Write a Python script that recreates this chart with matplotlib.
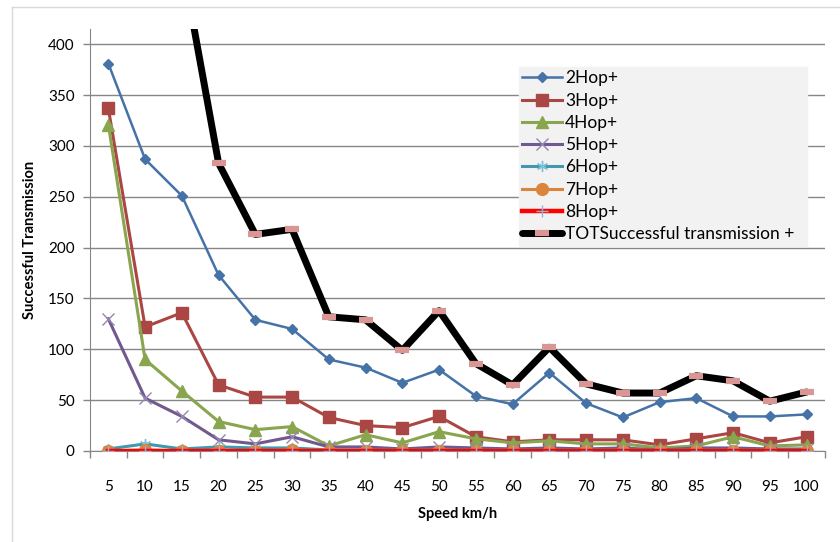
import matplotlib
matplotlib.use("Agg")

import matplotlib.pyplot as plt
from matplotlib.lines import Line2D

plt.rcParams["font.family"] = ["Lato", "DejaVu Sans"]

speeds = [5, 10, 15, 20, 25, 30, 35, 40, 45, 50, 55, 60, 65, 70, 75, 80, 85, 90, 95, 100]

hop2 = [381, 287, 251, 173, 129, 120, 90, 82, 67, 80, 54, 46, 77, 47, 33, 48, 52, 34, 34, 36]
hop3 = [337, 122, 136, 65, 53, 53, 33, 25, 23, 34, 14, 9, 11, 11, 11, 6, 12, 18, 8, 14]
hop4 = [321, 90, 59, 29, 21, 24, 5, 16, 8, 19, 12, 8, 10, 7, 7, 3, 5, 14, 5, 6]
hop5 = [130, 52, 34, 11, 7, 14, 4, 4, 2, 4, 3, 2, 3, 2, 3, 1, 3, 3, 2, 2]
hop6 = [2, 7, 2, 4, 3, 3, 1, 1, 1, 1, 1, 1, 1, 1, 1, 1, 1, 1, 1, 1]
hop7 = [0, 1, 0, 0, 0, 1, 0, 0, 0, 0, 0, 0, 0, 0, 0, 0, 0, 0, 0, 0]
hop8 = [0, 0, 0, 0, 0, 0, 0, 0, 0, 0, 0, 0, 0, 0, 0, 0, 0, 0, 0, 0]
tot = [1171, 559, 482, 283, 213, 218, 132, 129, 99, 138, 86, 65, 102, 66, 57, 57, 74, 69, 49, 58]

fig = plt.figure(figsize=(8.4, 5.42), dpi=100)
ax = fig.add_axes([0.1071, 0.1679, 0.875, 0.7786])

x = list(range(len(speeds)))

ax.plot(x, hop2, color="#4572a7", lw=1.8, marker="D", ms=5.5,
        label="2Hop+", zorder=3)
ax.plot(x, hop3, color="#aa4643", lw=2.2, marker="s", ms=8.5,
        label="3Hop+", zorder=3)
ax.plot(x, hop4, color="#89a54e", lw=2.2, marker="^", ms=8.5,
        label="4Hop+", zorder=3)
ax.plot(x, hop5, color="#71588f", lw=2.2, marker="x", ms=8, mew=1,
        mec="#9585b0", label="5Hop+", zorder=3)
ax.plot(x, hop6, color="#4198af", lw=2.2, marker=(6, 2, 0), ms=8, mew=1,
        mec="#7fc1d6", label="6Hop+", zorder=3)
ax.plot(x, hop7, color="#db843d", lw=2.2, marker="o", ms=8.5,
        label="7Hop+", zorder=3)
ax.plot(x, hop8, color="#ff0000", lw=3.2, marker="+", ms=8, mew=1,
        mec="#9bb0d6", label="8Hop+", zorder=3)
ax.plot(x, tot, color="black", lw=5, marker="_", ms=10, mew=4.5,
        mec="#d99694", solid_capstyle="round",
        label="TOTSuccessful transmission +", zorder=4)

ax.set_xlim(-0.5, len(speeds) - 0.5)
ax.set_ylim(0, 415)
ax.set_yticks(range(0, 401, 50))
ax.set_xticks(x)
ax.set_xticklabels([str(s) for s in speeds])
ax.set_xticks([i - 0.5 for i in range(len(speeds) + 1)], minor=True)

ax.tick_params(axis="x", which="major", length=0, pad=21, labelsize=11,
               colors="#000000")
ax.tick_params(axis="x", which="minor", length=5, color="#868686", width=1)
ax.tick_params(axis="y", length=5, color="#868686", width=1, pad=6,
               labelsize=11)

ax.grid(axis="y", color="#868686", lw=1)
ax.set_axisbelow(True)
for side in ("top", "right"):
    ax.spines[side].set_visible(False)
for side in ("left", "bottom"):
    ax.spines[side].set_color("#868686")

ax.set_xlabel("Speed km/h", fontsize=10.5, fontweight="bold", labelpad=9)
ax.set_ylabel("Successful Transmission", fontsize=10.5, fontweight="bold",
              labelpad=8)

leg = ax.legend(loc="upper left", bbox_to_anchor=(0.5837, 0.493, 0.392, 0.417),
                mode="expand", fontsize=12.5, frameon=True, fancybox=False,
                facecolor="#f2f2f2", edgecolor="#f2f2f2", framealpha=1,
                handlelength=2.3, handletextpad=0.15, labelspacing=0.36,
                borderpad=0.2, borderaxespad=0)

# chart area border (only top and left visible in the crop)
fig.add_artist(Line2D([12 / 840, 1], [1 - 7 / 542, 1 - 7 / 542],
                      transform=fig.transFigure, color="#d9d9d9", lw=1))
fig.add_artist(Line2D([12 / 840, 12 / 840], [0, 1 - 7 / 542],
                      transform=fig.transFigure, color="#d9d9d9", lw=1))

fig.savefig("out.png", dpi=100)
